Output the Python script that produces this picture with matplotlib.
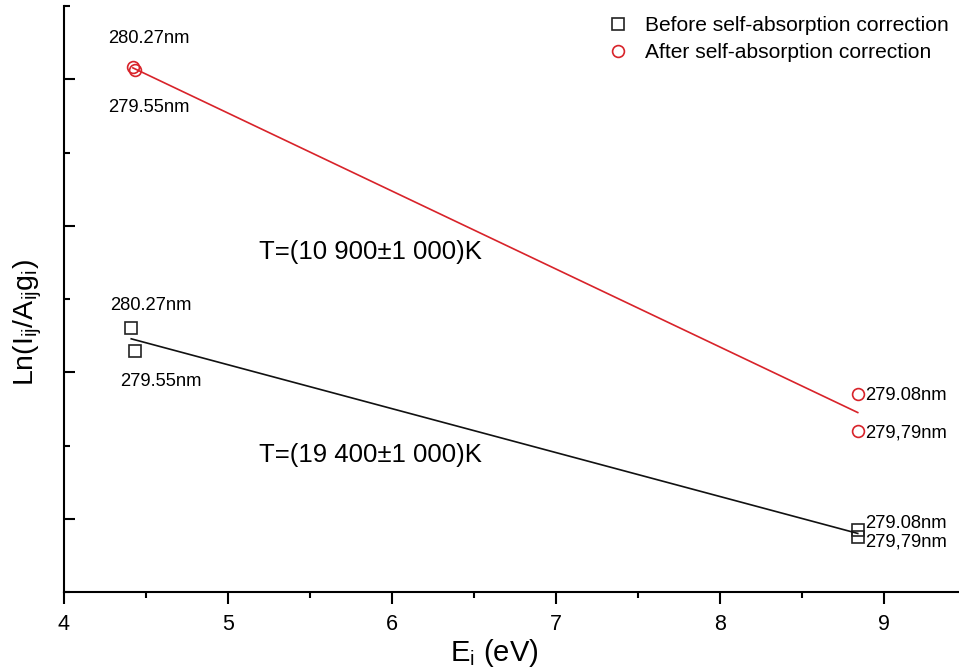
import numpy as np
import matplotlib
matplotlib.use("Agg")
import matplotlib.pyplot as plt
from matplotlib.ticker import MultipleLocator, NullFormatter

plt.rcParams['font.family'] = ['Liberation Sans', 'DejaVu Sans']
plt.rcParams['mathtext.fontset'] = 'custom'
plt.rcParams['mathtext.rm'] = 'Liberation Sans'
plt.rcParams['mathtext.it'] = 'Liberation Sans:italic'

# Data (y in arbitrary units)
E_before = [4.41, 4.43, 8.84, 8.84]
ln_before = [3.61, 3.29, 0.85, 0.75]
E_after = [4.42, 4.43, 8.84, 8.84]
ln_after = [7.17, 7.13, 2.70, 2.20]
labels_before = ["280.27nm", "279.55nm", "279.08nm", "279,79nm"]
labels_after = ["280.27nm", "279.55nm", "279.08nm", "279,79nm"]
temp_after = "T=(10 900\u00b11 000)K"
temp_before = "T=(19 400\u00b11 000)K"

red = '#d8232a'
W, H = 959, 671

fig = plt.figure(figsize=(W/100, H/100), dpi=100)
ax = fig.add_axes([64/W, 79/H, 895/W, 586/H])

ax.plot(E_before, ln_before, linestyle='none', marker='s', ms=8.5, mfc='none',
        mec='#222222', mew=1.2, label='Before self-absorption correction')
ax.plot(E_after, ln_after, linestyle='none', marker='o', ms=8.5, mfc='none',
        mec=red, mew=1.2, label='After self-absorption correction')

for xs, ys, c in [(E_before, ln_before, '#111111'), (E_after, ln_after, red)]:
    k, b = np.polyfit(xs, ys, 1)
    xx = np.array([min(xs), max(xs)])
    ax.plot(xx, k * xx + b, color=c, lw=1.2)

fs = 13.2
ax.text(4.27, 7.55, labels_after[0], fontsize=fs, va='center')
ax.text(4.27, 6.61, labels_after[1], fontsize=fs, va='center')
ax.text(4.28, 3.91, labels_before[0], fontsize=fs, va='center')
ax.text(4.34, 2.88, labels_before[1], fontsize=fs, va='center')
ax.text(8.885, 2.68, labels_after[2], fontsize=fs, va='center')
ax.text(8.885, 2.17, labels_after[3], fontsize=fs, va='center')
ax.text(8.885, 0.94, labels_before[2], fontsize=fs, va='center')
ax.text(8.885, 0.68, labels_before[3], fontsize=fs, va='center')
ax.text(5.19, 4.64, temp_after, fontsize=18.5, va='center')
ax.text(5.19, 1.87, temp_before, fontsize=18.5, va='center')

ax.set_xlim(4, 4 + 895/164)
ax.set_ylim(0, 8)
ax.xaxis.set_major_locator(MultipleLocator(1))
ax.xaxis.set_minor_locator(MultipleLocator(0.5))
ax.set_yticks([1, 3, 5, 7])
ax.set_yticks([0, 2, 4, 6, 8], minor=True)
ax.yaxis.set_major_formatter(NullFormatter())
ax.tick_params(axis='x', which='major', direction='out', length=8.8, width=1.5, labelsize=15.5, pad=7)
ax.tick_params(axis='x', which='minor', direction='out', length=4.3, width=1.5)
ax.tick_params(axis='y', which='major', direction='in', length=8, width=1.5)
ax.tick_params(axis='y', which='minor', direction='in', length=4.3, width=1.5)
for s in ['top', 'right']:
    ax.spines[s].set_visible(False)
for s in ['left', 'bottom']:
    ax.spines[s].set_linewidth(1.5)

fig.text(494/W, 1 - 661/H, 'E$_\\mathregular{i}$ (eV)', fontsize=21, ha='center', va='baseline')
fig.text(28/W, 1 - 323/H, 'Ln(I$_\\mathregular{ij}$/A$_\\mathregular{ij}$g$_\\mathregular{i}$)',
         fontsize=20.5, ha='center', va='center', rotation=90)

leg = ax.legend(loc='upper right', bbox_to_anchor=(1.0, 1.0), frameon=False, fontsize=15.1,
                handlelength=1.0, handletextpad=0.8, labelspacing=0.38, borderaxespad=0.1)

fig.savefig('out.png', dpi=100)
